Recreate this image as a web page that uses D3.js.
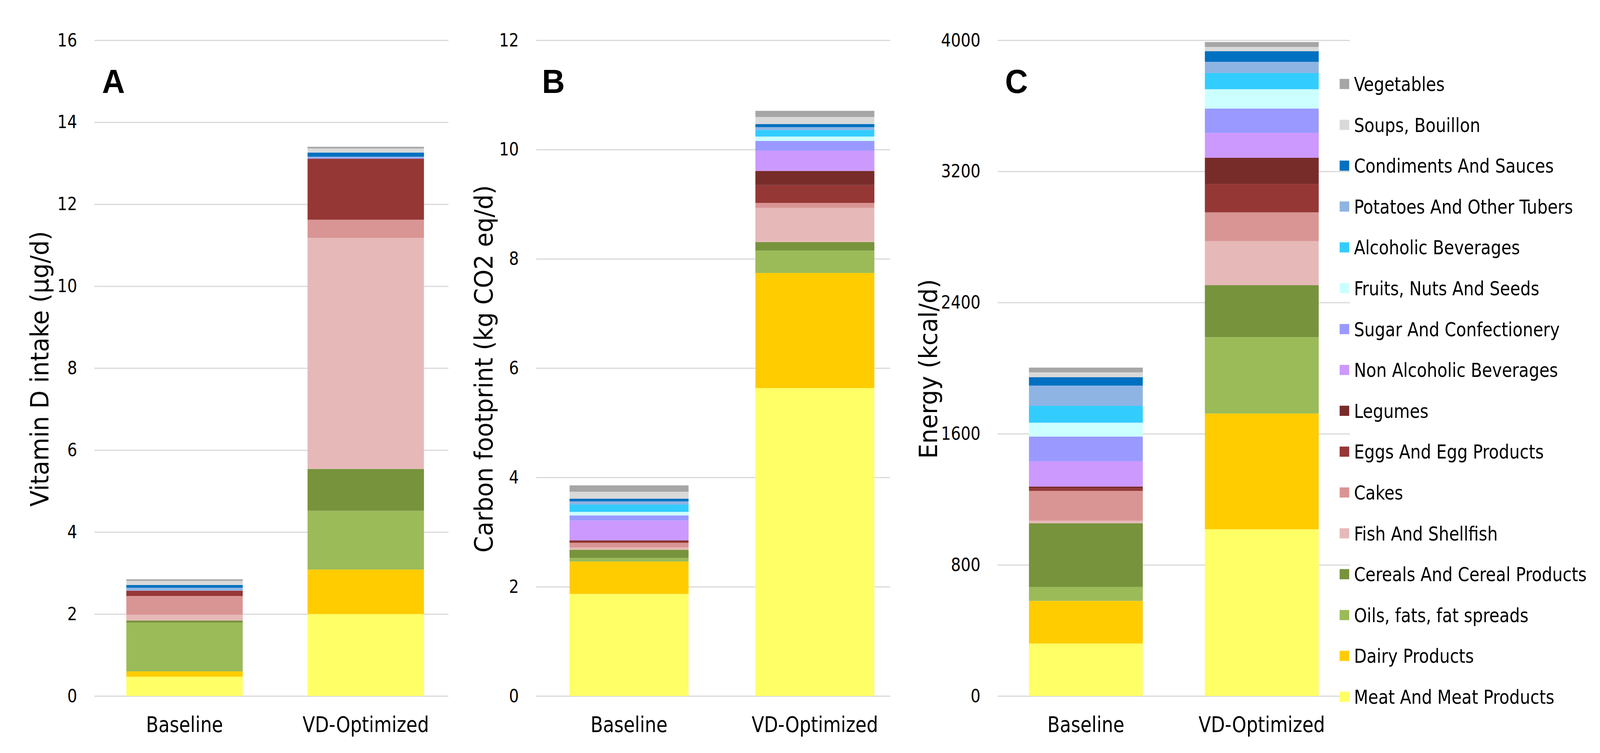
<!DOCTYPE html>
<html>
<head>
<meta charset="utf-8">
<script src="https://cdn.jsdelivr.net/npm/d3@7"></script>
<style>
  html, body { margin: 0; padding: 0; background: #ffffff; overflow: hidden; width: 100%; height: 100%; }
  svg { display: block; width: 100vw; height: 100vh; }
</style>
</head>
<body>
<svg id="chart" viewBox="0 0 4357 1928" preserveAspectRatio="none"></svg>
<script>
// ---------------- DATA ----------------
const categories = ["Baseline", "VD-Optimized"];

// Stack order, bottom to top
const seriesNames = [
  "Meat And Meat Products", "Dairy Products", "Oils, fats, fat spreads",
  "Cereals And Cereal Products", "Fish And Shellfish", "Cakes",
  "Eggs And Egg Products", "Legumes", "Non Alcoholic Beverages",
  "Sugar And Confectionery", "Fruits, Nuts And Seeds", "Alcoholic Beverages",
  "Potatoes And Other Tubers", "Condiments And Sauces", "Soups, Bouillon", "Vegetables"
];
const seriesColors = [
  "#FFFF66", "#FFCC00", "#9BBB59", "#77933C", "#E6B9B8", "#D99594",
  "#953735", "#772C2A", "#CC99FF", "#9999FF", "#CCFFFF", "#33CCFF",
  "#8EB4E3", "#0070C0", "#D9D9D9", "#A6A6A6"
];

// Panel A: Vitamin D intake (µg/d)
const vitD_baseline  = [0.47, 0.13, 1.19, 0.05, 0.14, 0.46, 0.13, 0.0, 0.0, 0.005, 0.0, 0.0, 0.066, 0.066, 0.10, 0.04];
const vitD_optimized = [2.00, 1.085, 1.435, 1.02, 5.635, 0.445, 1.49, 0.0, 0.0, 0.02, 0.0, 0.0, 0.03, 0.10, 0.10, 0.04];
// Panel B: Carbon footprint (kg CO2 eq/d)
const carbon_baseline  = [1.867, 0.593, 0.065, 0.151, 0.041, 0.086, 0.027, 0.018, 0.364, 0.092, 0.065, 0.133, 0.059, 0.050, 0.127, 0.116];
const carbon_optimized = [5.634, 2.107, 0.409, 0.157, 0.627, 0.088, 0.328, 0.259, 0.369, 0.179, 0.080, 0.121, 0.051, 0.058, 0.128, 0.113];
// Panel C: Energy (kcal/d)
const energy_baseline  = [320, 260, 85, 389, 15, 182, 16, 10, 155, 150, 85, 103, 123, 52, 29, 29];
const energy_optimized = [1017, 706, 466, 317, 268, 176, 173, 160, 152, 148, 118, 99, 68, 65, 26, 30];

// Tick labels
const ticksA = [0, 2, 4, 6, 8, 10, 12, 14, 16];
const ticksB = [0, 2, 4, 6, 8, 10, 12];
const ticksC = [0, 800, 1600, 2400, 3200, 4000];

const titles = ["Vitamin D intake (µg/d)", "Carbon footprint (kg CO2 eq/d)", "Energy (kcal/d)"];
const letters = ["A", "B", "C"];

// ---------------- LAYOUT ----------------
const FONT = "'DejaVu Sans Condensed', 'DejaVu Sans', sans-serif";
const TITLE_FONT = "'Liberation Sans Narrow', 'DejaVu Sans Condensed', sans-serif";
const Y0 = 1782, Y1 = 103;

const panels = [
  { letter: letters[0], title: titles[0], base: vitD_baseline, opt: vitD_optimized, max: 16, ticks: ticksA,
    grid: [257, 1221], centers: [502.5, 996], barW: 317, letterX: 278, titleX: 108 },
  { letter: letters[1], title: titles[1], base: carbon_baseline, opt: carbon_optimized, max: 12, ticks: ticksB,
    grid: [1460, 2424], centers: [1713, 2219], barW: 324, letterX: 1476, titleX: 1318 },
  { letter: letters[2], title: titles[2], base: energy_baseline, opt: energy_optimized, max: 4000, ticks: ticksC,
    grid: [2717, 3676], centers: [2957, 3436], barW: 310, letterX: 2737, titleX: 2528 }
];

const svg = d3.select("#chart");
svg.append("rect").attr("width", 4357).attr("height", 1928).attr("fill", "#ffffff");

// measure helper (font size that gives a text a target length)
function fitSize(text, family, weight, targetLen) {
  const t = svg.append("text").attr("font-family", family).attr("font-weight", weight)
    .attr("font-size", 100).text(text);
  const w = t.node().getComputedTextLength();
  t.remove();
  return 100 * targetLen / w;
}

const titleSize = fitSize(titles[1], TITLE_FONT, "normal", 941);

panels.forEach(p => {
  const g = svg.append("g");
  const y = d3.scaleLinear().domain([0, p.max]).range([Y0, Y1]);
  const x = d3.scalePoint().domain(categories).range(p.centers);

  // gridlines + tick labels
  const axis = d3.axisLeft(y).tickValues(p.ticks).tickSize(-(p.grid[1] - p.grid[0])).tickPadding(47)
    .tickFormat(d3.format("d"));
  const ag = g.append("g").attr("transform", `translate(${p.grid[0]},0)`).call(axis);
  ag.select(".domain").remove();
  ag.selectAll(".tick line").attr("stroke", "#D9D9D9").attr("stroke-width", 3);
  ag.selectAll(".tick text").attr("font-family", FONT).attr("font-size", 47).attr("fill", "#000");

  // stacked data
  const rows = categories.map((c, i) => {
    const vals = i === 0 ? p.base : p.opt;
    const r = { cat: c };
    seriesNames.forEach((s, k) => r[s] = vals[k]);
    return r;
  });
  const stack = d3.stack().keys(seriesNames)(rows);
  const layers = g.append("g").selectAll("g").data(stack).join("g")
    .attr("fill", (d, i) => seriesColors[i]);
  layers.selectAll("rect").data(d => d).join("rect")
    .attr("x", d => x(d.data.cat) - p.barW / 2)
    .attr("width", p.barW)
    .attr("y", d => y(d[1]))
    .attr("height", d => Math.max(0, y(d[0]) - y(d[1])));

  // category labels
  g.append("g").selectAll("text").data(categories).join("text")
    .attr("x", d => x(d)).attr("y", 1874)
    .attr("text-anchor", "middle")
    .attr("font-family", FONT).attr("font-size", 55).attr("fill", "#000")
    .text(d => d);

  // panel letter
  g.append("text").attr("x", p.letterX).attr("y", 238)
    .attr("font-family", "'Liberation Sans', Arial, sans-serif").attr("font-weight", "bold")
    .attr("font-size", 86).attr("fill", "#000").text(p.letter);

  // y title
  g.append("text")
    .attr("transform", `translate(${p.titleX},${(Y0 + Y1) / 2 + 2}) rotate(-90)`)
    .attr("text-anchor", "middle").attr("dy", "0.35em")
    .attr("font-family", TITLE_FONT).attr("font-size", titleSize).attr("fill", "#000")
    .text(p.title);
});

// ---------------- LEGEND ----------------
const legendOrder = seriesNames.slice().reverse();
const ly = d3.scalePoint().domain(legendOrder).range([215, 1784]);
const legendSize = fitSize("Cereals And Cereal Products", FONT, "normal", 634);
const lg = svg.append("g");
const items = lg.selectAll("g").data(legendOrder).join("g")
  .attr("transform", d => `translate(3648,${ly(d)})`);
items.append("rect").attr("x", 0).attr("y", -13).attr("width", 26).attr("height", 26)
  .attr("fill", d => seriesColors[seriesNames.indexOf(d)]);
items.append("text").attr("x", 39).attr("dy", "0.36em")
  .attr("font-family", FONT).attr("font-size", legendSize).attr("fill", "#000")
  .text(d => d);
</script>
</body>
</html>
